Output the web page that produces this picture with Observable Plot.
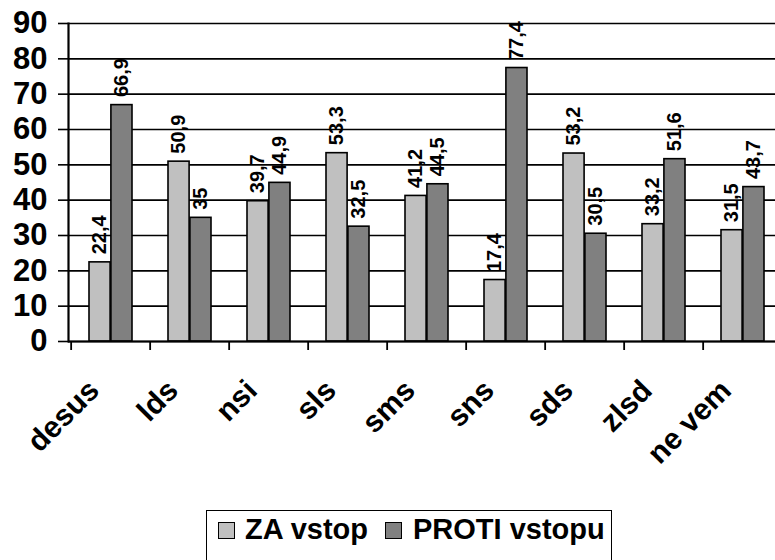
<!DOCTYPE html>
<html>
<head>
<meta charset="utf-8">
<script src="https://cdn.jsdelivr.net/npm/d3@7"></script>
<script src="https://cdn.jsdelivr.net/npm/@observablehq/plot@0.6"></script>
<style>
  html, body { margin: 0; padding: 0; background: #fff; }
  #wrap { position: relative; width: 775px; height: 560px; overflow: hidden; font-family: "Liberation Sans", Arial, sans-serif; }
  #legend { position: absolute; left: 206px; top: 510px; width: 406px; height: 60px; border: 1.5px solid #000; box-sizing: border-box; font-weight: bold; font-size: 29px; }
  .sw { position: absolute; top: 11px; width: 15px; height: 15px; border: 1.5px solid #000; }
  .lt { position: absolute; top: 1px; line-height: 34px; white-space: nowrap; }
</style>
</head>
<body>
<div id="wrap">
  <div id="chart"></div>
  <div id="legend"></div>
</div>
<script>
const categories = ["desus", "lds", "nsi", "sls", "sms", "sns", "sds", "zlsd", "ne vem"];
const seriesNames = ["ZA vstop", "PROTI vstopu"];
const zaValues = [22.4, 50.9, 39.7, 53.3, 41.2, 17.4, 53.2, 33.2, 31.5];
const protiValues = [66.9, 35, 44.9, 32.5, 44.5, 77.4, 30.5, 51.6, 43.7];
const yTicks = [0, 10, 20, 30, 40, 50, 60, 70, 80, 90];
const colors = ["#c0c0c0", "#808080"];

const rows = categories.map((c, i) => ({cat: c, za: zaValues[i], proti: protiValues[i]}));
const fmt = v => String(v).replace(".", ",");

const W = 775, H = 560, mL = 68, mT = 23, mB = H - 341;
const step = 79.7;
const bw = 21.9;

const chart = Plot.plot({
  width: W,
  height: H,
  marginLeft: mL,
  marginRight: 0,
  marginTop: mT,
  marginBottom: mB,
  style: {fontFamily: "'Liberation Sans', Arial, sans-serif", fontWeight: "bold", color: "#000", background: "#fff", overflow: "hidden"},
  x: {type: "band", domain: categories, range: [mL, mL + step * categories.length], paddingInner: 0.45, paddingOuter: 0.225, axis: null},
  y: {domain: [0, 90], axis: null},
  marks: [
    Plot.ruleY(yTicks, {stroke: "#000", strokeWidth: 1.6}),
    Plot.axisY(yTicks, {tickSize: 10, tickPadding: 11, fontSize: 31, fontWeight: "bold", stroke: "#000", strokeWidth: 1.6, tickFormat: d => String(d), label: null}),
    Plot.barY(rows, {x: "cat", y: "za", fill: colors[0], stroke: "#000", strokeWidth: 1.6, insetRight: bw}),
    Plot.barY(rows, {x: "cat", y: "proti", fill: colors[1], stroke: "#000", strokeWidth: 1.6, insetLeft: bw}),
    Plot.ruleY([0], {stroke: "#000", strokeWidth: 2.2}),
    Plot.frame({anchor: "left", stroke: "#000", strokeWidth: 2.2}),
    Plot.axisX(categories, {tickSize: 9, tickFormat: () => "", dx: -step / 2, stroke: "#000", strokeWidth: 1.8, label: null}),
    Plot.text(categories, {x: d => d, frameAnchor: "bottom", dy: 44, dx: -17, rotate: -45, textAnchor: "end", lineAnchor: "middle", fontSize: 30, fontWeight: "bold", fill: "#000"}),
    Plot.text(rows, {x: "cat", y: "za", text: d => fmt(d.za), rotate: -90, textAnchor: "start", lineAnchor: "middle", dx: -bw / 2, dy: -8, fontSize: 20, fontWeight: "bold", fill: "#000"}),
    Plot.text(rows, {x: "cat", y: "proti", text: d => fmt(d.proti), rotate: -90, textAnchor: "start", lineAnchor: "middle", dx: bw / 2, dy: -8, fontSize: 20, fontWeight: "bold", fill: "#000"})
  ]
});
document.getElementById("chart").appendChild(chart);

const legend = document.getElementById("legend");
const swX = [11, 178];
const txX = [38, 206];
seriesNames.forEach((name, i) => {
  const sw = document.createElement("div");
  sw.className = "sw";
  sw.style.left = swX[i] + "px";
  sw.style.background = colors[i];
  legend.appendChild(sw);
  const t = document.createElement("div");
  t.className = "lt";
  t.style.left = txX[i] + "px";
  t.textContent = name;
  legend.appendChild(t);
});
</script>
</body>
</html>
